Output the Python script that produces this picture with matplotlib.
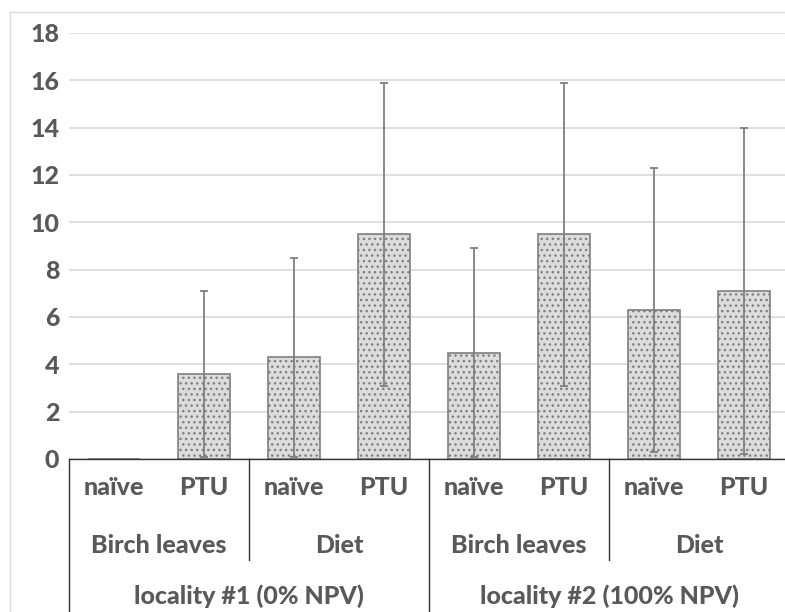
import numpy as np
import matplotlib.pyplot as plt
from matplotlib.lines import Line2D

# data
treatments = ['naïve', 'PTU', 'naïve', 'PTU', 'naïve', 'PTU', 'naïve', 'PTU']
foods = ['Birch leaves', 'Diet', 'Birch leaves', 'Diet']
localities = ['locality #1 (0% NPV)', 'locality #2 (100% NPV)']
means = [0.0, 3.6, 4.3, 9.5, 4.5, 9.5, 6.3, 7.1]
errors = [np.nan, 3.5, 4.2, 6.4, 4.4, 6.4, 6.0, 6.9]

text_color = '#595959'
plt.rcParams['font.family'] = ['Lato', 'DejaVu Sans']
plt.rcParams['font.weight'] = 'black'

fig = plt.figure(figsize=(7.85, 6.12), dpi=100)
ax = fig.add_axes([69 / 785, 1 - 459 / 612, 720 / 785, 426 / 612])

x = np.arange(len(means))
ax.bar(x, means, width=0.57, color='#dcdcdc', edgecolor='#7f7f7f',
       hatch='...', linewidth=1.2, zorder=2)
ax.errorbar(x, means, yerr=errors, fmt='none', ecolor='#7f7f7f',
            elinewidth=1.3, capsize=3, capthick=1.3, zorder=3)

ax.set_xlim(-0.5, 7.5)
ax.set_ylim(0, 18)
ax.set_yticks(range(0, 19, 2))
ax.yaxis.grid(True, color='#d9d9d9', linewidth=1.2, zorder=0)
ax.set_axisbelow(True)
ax.tick_params(axis='y', length=0, pad=7, labelsize=18, labelcolor=text_color)
ax.set_xticks([])
for side in ['left', 'right', 'top']:
    ax.spines[side].set_visible(False)
ax.spines['bottom'].set_color('#333333')
ax.spines['bottom'].set_linewidth(1.0)

# category table below the axis
trans = ax.get_xaxis_transform()
for i, t in enumerate(treatments):
    ax.text(i, -0.068, t, transform=trans, ha='center', va='center',
            fontsize=18, color=text_color)
for j, f in enumerate(foods):
    ax.text(2 * j + 0.5, -0.202, f, transform=trans, ha='center', va='center',
            fontsize=18, color=text_color)
for k, loc in enumerate(localities):
    ax.text(4 * k + 1.5, -0.322, loc, transform=trans, ha='center', va='center',
            fontsize=18, color=text_color)

for xs in [-0.5, 3.5]:
    ax.add_line(Line2D([xs, xs], [0, -0.4], transform=trans, color='#333333',
                       linewidth=1.0, clip_on=False))
for xs in [1.5, 5.5]:
    ax.add_line(Line2D([xs, xs], [0, -0.237], transform=trans, color='#333333',
                       linewidth=1.0, clip_on=False))

# light chart-area border (left and top edges)
fig.add_artist(Line2D([10 / 785, 10 / 785], [0, 1 - 12 / 612], color='#d9d9d9', linewidth=1))
fig.add_artist(Line2D([10 / 785, 1], [1 - 12 / 612, 1 - 12 / 612], color='#d9d9d9', linewidth=1))

fig.savefig('out.png', dpi=100)
